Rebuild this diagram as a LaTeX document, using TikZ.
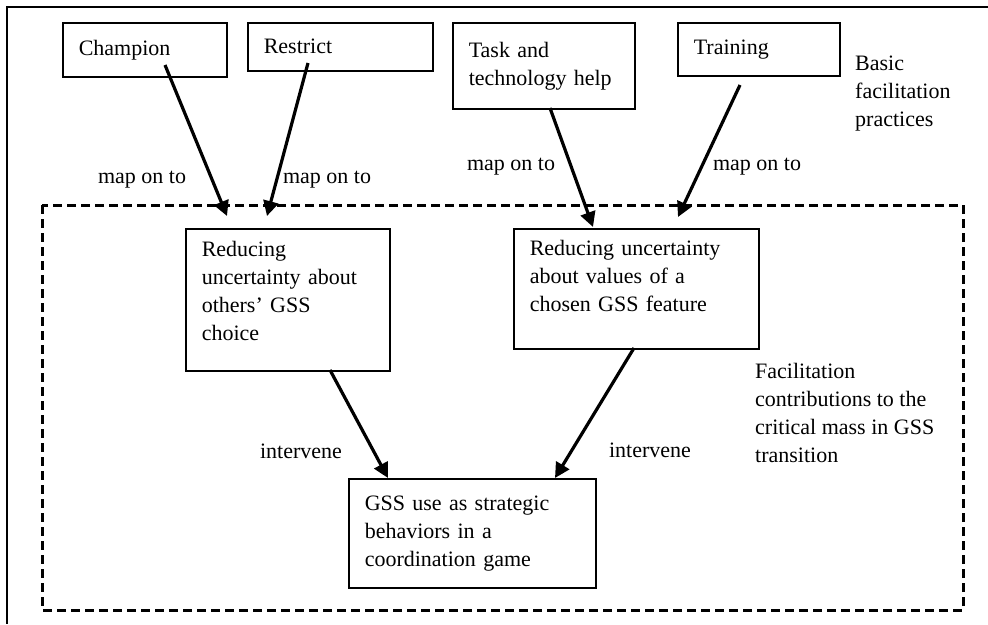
\documentclass[tikz,border=0pt]{standalone}
\usepackage{fontspec}
\setmainfont{Liberation Serif}
\usepackage{tikz}
\usetikzlibrary{arrows.meta,positioning}
\def\boxnode{\node[draw, line width=1.5pt, anchor=north west, align=left, inner xsep=16pt, inner ysep=0pt]}
\def\drawmap{\draw[line width=3.2pt, -{Triangle[length=15pt,width=15pt]}]}
\def\textnode{\node[anchor=north west, align=left, inner sep=0pt]}

\begin{document}
\begin{tikzpicture}[x=1pt,y=-1pt,font=\fontsize{22}{28}\selectfont]
\useasboundingbox (0,0) rectangle (988,624);
\draw[line width=2.5pt] (988,7) -- (7,7) -- (7,624);
\draw[line width=3pt, dash pattern=on 9pt off 5pt] (42,205) rectangle (963,610);
% basic practices
\boxnode[minimum height=54pt, text width=132pt] (champion) at (62,22) {Champion};
\boxnode[minimum height=48pt, text width=153pt] (restrict) at (247,22) {Restrict};
\boxnode[minimum height=86pt, text width=150pt] (taskhelp) at (452,22) {Task and\\technology help};
\boxnode[minimum height=53pt, text width=130pt] (training) at (677,22) {Training};
\textnode (basic) at (855,56) {Basic\\facilitation\\practices};
% contributions
\boxnode[minimum height=142pt, text width=172pt, text depth=101pt] (others) at (185,228) {Reducing\\uncertainty about\\others' GSS\\choice};
\boxnode[minimum height=120pt, text width=213pt, text depth=81pt] (values) at (513,228) {Reducing uncertainty\\about values of a\\chosen GSS feature};
\boxnode[minimum height=109pt, text width=215pt] (gss) at (348,478) {GSS use as strategic\\behaviors in a\\coordination game};
\textnode (contrib) at (755,363) {Facilitation\\contributions to the\\critical mass in GSS\\transition};
% arrow ends
\coordinate (champion-out) at (165,65);
\coordinate (champion-in) at (227,216);
\coordinate (restrict-out) at (308,63);
\coordinate (restrict-in) at (267,216);
\coordinate (taskhelp-out) at (550,108);
\coordinate (taskhelp-in) at (593,227);
\coordinate (training-out) at (740,85);
\coordinate (training-in) at (678,217);
\coordinate (others-out) at (330,370);
\coordinate (gss-left) at (388,478);
\coordinate (values-out) at (634,348);
\coordinate (gss-right) at (555,478);
\drawmap (champion-out) -- (champion-in);
\drawmap (restrict-out) -- (restrict-in);
\drawmap (taskhelp-out) -- (taskhelp-in);
\drawmap (training-out) -- (training-in);
\drawmap (others-out) -- (gss-left);
\drawmap (values-out) -- (gss-right);
% labels
\node (map1) at (142,180) {map on to};
\node (map2) at (327,180) {map on to};
\node (map3) at (511,167) {map on to};
\node (map4) at (757,167) {map on to};
\node (int1) at (301,451) {intervene};
\node (int2) at (650,450) {intervene};
\end{tikzpicture}
\end{document}
